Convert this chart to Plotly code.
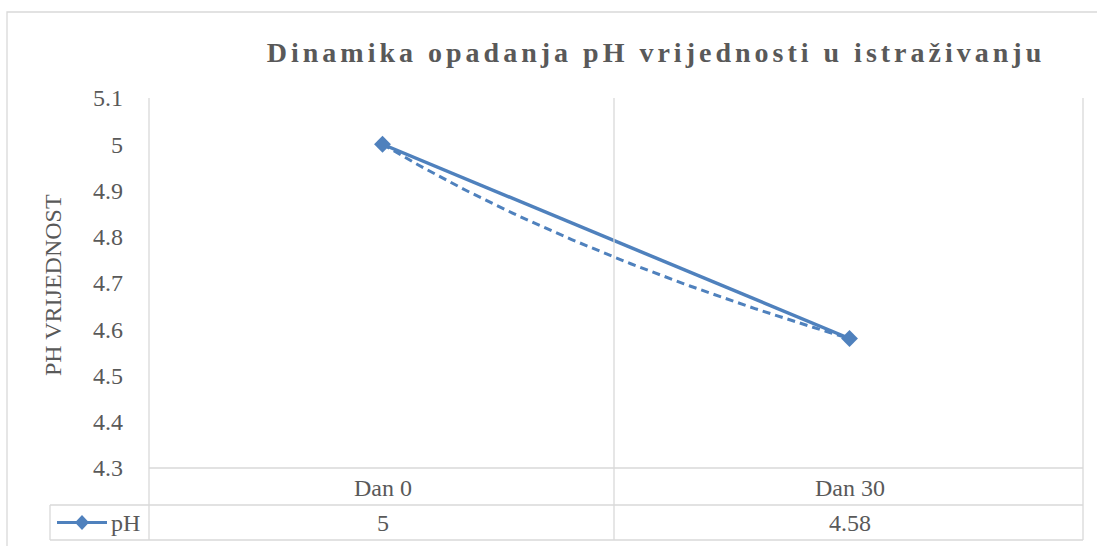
import numpy as np
import plotly.graph_objects as go

# ---- data ----
categories = ["Dan 0", "Dan 30"]
ph_values = [5, 4.58]
series_name = "pH"
y_tick_values = [4.3, 4.4, 4.5, 4.6, 4.7, 4.8, 4.9, 5.0, 5.1]
y_tick_labels = ["4.3", "4.4", "4.5", "4.6", "4.7", "4.8", "4.9", "5", "5.1"]
value_labels = ["5", "4.58"]
title_text = "Dinamika opadanja pH vrijednosti u istraživanju"
y_title_text = "PH VRIJEDNOST"

# ---- layout geometry (pixels) ----
W, H = 1097, 546
L, R, T, B = 149, 1083, 98, 468
PW, PH_ = R - L, B - T

def px(x):
    return (x - L) / PW

def py(y):
    return (B - y) / PH_

BLUE = "#4F81BD"
GRID = "#D9D9D9"
TXT = "#595959"
FONT = "Liberation Serif"

# logarithmic trendline fitted to the series (Excel uses x = 1..n)
xs_excel = np.arange(1, len(ph_values) + 1)
coef = np.polyfit(np.log(xs_excel), ph_values, 1)
t = np.linspace(1, len(ph_values), 80)
trend_x = t - 1
trend_y = coef[0] * np.log(t) + coef[1]

x_idx = list(range(len(categories)))

fig = go.Figure()
fig.add_trace(go.Scatter(
    x=trend_x, y=trend_y, mode="lines",
    line=dict(color=BLUE, width=3, dash="8px,5px"),
    showlegend=False, hoverinfo="skip",
))
fig.add_trace(go.Scatter(
    x=x_idx, y=ph_values, mode="lines+markers", name=series_name,
    line=dict(color=BLUE, width=3.5),
    marker=dict(symbol="diamond", size=13, color=BLUE),
    showlegend=False,
))

shapes = []
def line(x0, y0, x1, y1, color=GRID, width=1.3):
    shapes.append(dict(type="line", xref="paper", yref="paper",
                       x0=px(x0), y0=py(y0), x1=px(x1), y1=py(y1),
                       line=dict(color=color, width=width)))

# outer chart border
shapes.append(dict(type="rect", xref="paper", yref="paper",
                   x0=px(7), y0=py(560), x1=px(1110), y1=py(12),
                   line=dict(color=GRID, width=1.3), fillcolor="rgba(0,0,0,0)"))
# plot area / data table grid
line(L, T, L, 540)
line(614, T, 614, 540)
line(R, T, R, 540)
line(L, B, R, B)
line(50, 505, R, 505)
line(50, 540, R, 540)
line(50, 505, 50, 540)
# legend key in table
line(57, 522.5, 107, 522.5, color=BLUE, width=3)
cx, cy, hw, hh = 82, 522.5, 7, 7.5
shapes.append(dict(type="path", xref="paper", yref="paper",
                   path=f"M {px(cx-hw)},{py(cy)} L {px(cx)},{py(cy-hh)} L {px(cx+hw)},{py(cy)} L {px(cx)},{py(cy+hh)} Z",
                   fillcolor=BLUE, line=dict(color=BLUE, width=0)))

annotations = []
for i, c in enumerate(categories):
    annotations.append(dict(x=x_idx[i], y=py(487.5), xref="x", yref="paper",
                            text=c, showarrow=False, xanchor="center", yanchor="middle",
                            font=dict(family=FONT, size=24, color=TXT)))
    annotations.append(dict(x=x_idx[i], y=py(523), xref="x", yref="paper",
                            text=value_labels[i], showarrow=False, xanchor="center", yanchor="middle",
                            font=dict(family=FONT, size=24, color=TXT)))
annotations.append(dict(x=px(142), y=py(523), xref="paper", yref="paper",
                        text=series_name, showarrow=False, xanchor="right", yanchor="middle",
                        font=dict(family=FONT, size=24, color=TXT)))
annotations.append(dict(x=px(53), y=py(285), xref="paper", yref="paper",
                        text=y_title_text, showarrow=False, textangle=-90,
                        xanchor="center", yanchor="middle",
                        font=dict(family=FONT, size=24, color=TXT)))

fig.update_layout(
    width=W, height=H,
    margin=dict(l=L, r=W - R, t=T, b=H - B, pad=0),
    paper_bgcolor="white", plot_bgcolor="white",
    font=dict(family=FONT, size=24, color=TXT),
    title=dict(text=title_text, x=656 / W, xanchor="center", xref="container",
               y=1 - 52 / H, yanchor="middle", yref="container",
               font=dict(family=FONT, size=28, color=TXT, weight="bold")),
    xaxis=dict(range=[-0.5, len(categories) - 0.5], showgrid=False, zeroline=False,
               showline=False, showticklabels=False, ticks=""),
    yaxis=dict(range=[4.3, 5.1], tickvals=y_tick_values, ticktext=y_tick_labels,
               showgrid=False, zeroline=False, showline=False, ticks="",
               ticklabelstandoff=25,
               tickfont=dict(family=FONT, size=24, color=TXT)),
    shapes=shapes, annotations=annotations, showlegend=False,
)

post = """
document.body.style.margin = '0';
document.body.style.padding = '0';
var gd = document.getElementById('{plot_id}');
function ls(){ gd.querySelectorAll('.gtitle').forEach(function(e){ e.style.letterSpacing='4px'; }); }
ls(); setTimeout(ls, 30); setTimeout(ls, 200);
if (gd.on) { gd.on('plotly_afterplot', ls); }
"""
fig.write_html("out.html", post_script=post, config={"displayModeBar": False})
